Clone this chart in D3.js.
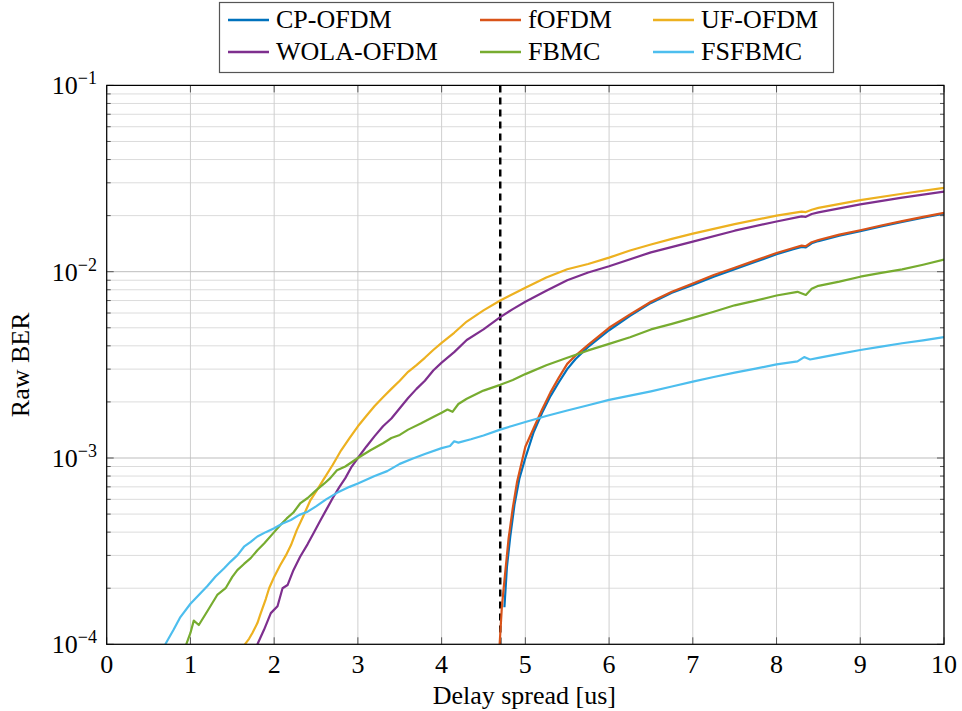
<!DOCTYPE html>
<html>
<head>
<meta charset="utf-8">
<script src="https://cdn.jsdelivr.net/npm/d3@7"></script>
<style>
  html, body { margin: 0; padding: 0; background: #fff; }
</style>
</head>
<body>
<svg id="chart" width="962" height="711"></svg>
<script>
// ---------- data ----------
const seriesNames = ["CP-OFDM", "fOFDM", "UF-OFDM", "WOLA-OFDM", "FBMC", "FSFBMC"];
const seriesColors = ["#0072BD", "#D95319", "#EDB120", "#7E2F8E", "#77AC30", "#4DBEEE"];

const cpofdmX = [4.75,4.78,4.82,4.87,4.93,5.0,5.1,5.2,5.3,5.4,5.5,5.6,5.75,6.0,6.25,6.5,6.75,7.0,7.25,7.5,7.75,8.0,8.2,8.3,8.35,8.42,8.5,8.75,9.0,9.25,9.5,9.75,10];
const cpofdmY = [1.58e-4,2.6e-4,3.8e-4,5.6e-4,7.8e-4,1.0e-3,1.38e-3,1.75e-3,2.15e-3,2.55e-3,3.0e-3,3.4e-3,3.95e-3,4.85e-3,5.8e-3,6.8e-3,7.7e-3,8.5e-3,9.4e-3,1.03e-2,1.13e-2,1.24e-2,1.32e-2,1.36e-2,1.35e-2,1.42e-2,1.46e-2,1.56e-2,1.65e-2,1.75e-2,1.85e-2,1.95e-2,2.05e-2];

const fofdmX = [4.69,4.72,4.75,4.8,4.85,4.9,5.0,5.1,5.2,5.3,5.4,5.5,5.6,5.75,6.0,6.25,6.5,6.75,7.0,7.25,7.5,7.75,8.0,8.2,8.3,8.35,8.42,8.5,8.75,9.0,9.25,9.5,9.75,10];
const fofdmY = [0.95e-4,1.6e-4,2.2e-4,3.7e-4,5.4e-4,7.4e-4,1.15e-3,1.45e-3,1.82e-3,2.25e-3,2.7e-3,3.2e-3,3.55e-3,4.05e-3,5.0e-3,5.9e-3,6.9e-3,7.8e-3,8.65e-3,9.6e-3,1.05e-2,1.15e-2,1.26e-2,1.34e-2,1.38e-2,1.37e-2,1.44e-2,1.48e-2,1.58e-2,1.67e-2,1.77e-2,1.87e-2,1.97e-2,2.07e-2];

const ufofdmX = [1.65,1.7,1.74,1.8,1.84,1.9,1.94,2.0,2.07,2.14,2.2,2.27,2.35,2.43,2.5,2.6,2.7,2.8,2.9,3.0,3.1,3.2,3.3,3.4,3.5,3.6,3.7,3.8,3.9,4.0,4.15,4.3,4.5,4.7,5.0,5.25,5.5,5.75,6.0,6.25,6.5,6.75,7.0,7.5,8.0,8.3,8.35,8.42,8.5,9.0,9.5,10];
const ufofdmY = [1.0e-4,1.07e-4,1.15e-4,1.3e-4,1.47e-4,1.75e-4,2.0e-4,2.3e-4,2.65e-4,3.0e-4,3.4e-4,4.1e-4,4.9e-4,5.9e-4,6.6e-4,7.8e-4,9.2e-4,1.1e-3,1.28e-3,1.48e-3,1.68e-3,1.9e-3,2.12e-3,2.35e-3,2.6e-3,2.9e-3,3.15e-3,3.45e-3,3.8e-3,4.15e-3,4.7e-3,5.4e-3,6.2e-3,7.0e-3,8.2e-3,9.3e-3,1.03e-2,1.1e-2,1.19e-2,1.3e-2,1.4e-2,1.5e-2,1.6e-2,1.8e-2,2.0e-2,2.1e-2,2.09e-2,2.15e-2,2.2e-2,2.42e-2,2.62e-2,2.82e-2];

const wolaX = [1.8,1.88,1.96,2.04,2.1,2.16,2.23,2.31,2.4,2.47,2.55,2.63,2.7,2.78,2.85,2.92,3.0,3.1,3.2,3.3,3.4,3.5,3.6,3.7,3.8,3.9,4.0,4.15,4.3,4.5,4.7,4.85,5.0,5.25,5.5,5.75,6.0,6.5,7.0,7.5,8.0,8.3,8.35,8.42,8.5,9.0,9.5,10];
const wolaY = [1.0e-4,1.2e-4,1.47e-4,1.6e-4,2.0e-4,2.08e-4,2.5e-4,2.95e-4,3.45e-4,3.95e-4,4.6e-4,5.35e-4,6.1e-4,7.0e-4,7.8e-4,8.9e-4,1.0e-3,1.15e-3,1.31e-3,1.48e-3,1.63e-3,1.85e-3,2.1e-3,2.35e-3,2.6e-3,2.95e-3,3.25e-3,3.7e-3,4.3e-3,4.9e-3,5.7e-3,6.3e-3,6.9e-3,7.9e-3,9.0e-3,9.9e-3,1.07e-2,1.27e-2,1.45e-2,1.66e-2,1.86e-2,1.98e-2,1.97e-2,2.04e-2,2.08e-2,2.3e-2,2.5e-2,2.69e-2];

const fbmcX = [0.95,1.0,1.04,1.1,1.2,1.32,1.42,1.5,1.56,1.64,1.72,1.8,1.88,2.0,2.08,2.15,2.23,2.31,2.4,2.5,2.6,2.67,2.75,2.85,3.0,3.15,3.3,3.4,3.5,3.6,3.75,3.9,4.0,4.07,4.13,4.2,4.3,4.5,4.7,4.85,5.0,5.25,5.5,5.75,6.0,6.25,6.5,6.75,7.0,7.25,7.5,7.75,8.0,8.25,8.35,8.42,8.5,8.75,9.0,9.25,9.5,9.75,10];
const fbmcY = [1.0e-4,1.15e-4,1.34e-4,1.27e-4,1.5e-4,1.84e-4,2.0e-4,2.3e-4,2.5e-4,2.7e-4,2.9e-4,3.2e-4,3.48e-4,4.0e-4,4.4e-4,4.74e-4,5.1e-4,5.7e-4,6.1e-4,6.7e-4,7.3e-4,7.8e-4,8.6e-4,9.0e-4,1.0e-3,1.1e-3,1.2e-3,1.28e-3,1.33e-3,1.42e-3,1.53e-3,1.66e-3,1.75e-3,1.82e-3,1.77e-3,1.95e-3,2.08e-3,2.3e-3,2.47e-3,2.62e-3,2.82e-3,3.15e-3,3.45e-3,3.78e-3,4.1e-3,4.45e-3,4.9e-3,5.25e-3,5.65e-3,6.1e-3,6.6e-3,7.0e-3,7.45e-3,7.8e-3,7.5e-3,8.1e-3,8.4e-3,8.85e-3,9.4e-3,9.85e-3,1.03e-2,1.09e-2,1.16e-2];

const fsfbmcX = [0.7,0.8,0.88,1.0,1.12,1.2,1.3,1.4,1.48,1.56,1.64,1.72,1.8,1.9,2.0,2.1,2.2,2.3,2.4,2.5,2.62,2.75,2.9,3.0,3.2,3.35,3.5,3.65,3.8,4.0,4.1,4.15,4.2,4.35,4.5,4.7,4.85,5.0,5.25,5.5,5.75,6.0,6.25,6.5,6.75,7.0,7.25,7.5,7.75,8.0,8.25,8.33,8.4,8.5,8.75,9.0,9.25,9.5,9.75,10];
const fsfbmcY = [1.0e-4,1.2e-4,1.4e-4,1.65e-4,1.88e-4,2.05e-4,2.31e-4,2.55e-4,2.78e-4,3.0e-4,3.34e-4,3.55e-4,3.79e-4,4.0e-4,4.2e-4,4.45e-4,4.65e-4,4.95e-4,5.15e-4,5.5e-4,6.0e-4,6.5e-4,7.0e-4,7.3e-4,8.0e-4,8.5e-4,9.3e-4,9.9e-4,1.05e-3,1.13e-3,1.16e-3,1.23e-3,1.21e-3,1.26e-3,1.32e-3,1.42e-3,1.49e-3,1.56e-3,1.68e-3,1.8e-3,1.92e-3,2.05e-3,2.16e-3,2.28e-3,2.42e-3,2.57e-3,2.72e-3,2.87e-3,3.02e-3,3.18e-3,3.3e-3,3.48e-3,3.38e-3,3.45e-3,3.62e-3,3.8e-3,3.96e-3,4.13e-3,4.28e-3,4.45e-3];

const xTicks = [0,1,2,3,4,5,6,7,8,9,10];
const yDecades = [1e-4, 1e-3, 1e-2, 1e-1];
const yExponents = ["−4", "−3", "−2", "−1"];
const markerDelay = 4.7;
const xLabel = "Delay spread [us]";
const yLabel = "Raw BER";

// ---------- build ----------
const FONT = "'Liberation Serif', 'DejaVu Serif', serif";
const FS = 26;
const seriesX = [cpofdmX, fofdmX, ufofdmX, wolaX, fbmcX, fsfbmcX];
const seriesY = [cpofdmY, fofdmY, ufofdmY, wolaY, fbmcY, fsfbmcY];
const series = seriesNames.map((name, i) => ({
  name, color: seriesColors[i],
  points: seriesX[i].map((x, j) => ({ x, y: seriesY[i][j] }))
}));

const svg = d3.select("#chart").attr("font-family", FONT);
const L = 106.7, R = 944, T = 85.4, B = 644.3;
const x = d3.scaleLinear().domain([0, 10]).range([L, R]);
const y = d3.scaleLog().domain([1e-4, 1e-1]).range([B, T]);

const minorVals = [];
for (let e = -4; e < -1; e++) for (let k = 2; k <= 9; k++) minorVals.push(k * Math.pow(10, e));

const grid = svg.append("g");
grid.selectAll("line.minor").data(minorVals).join("line")
  .attr("x1", L).attr("x2", R).attr("y1", d => y(d)).attr("y2", d => y(d))
  .attr("stroke", "#dcdcdc").attr("stroke-width", 1);
grid.selectAll("line.vx").data(xTicks).join("line")
  .attr("x1", d => x(d)).attr("x2", d => x(d)).attr("y1", T).attr("y2", B)
  .attr("stroke", "#cfcfcf").attr("stroke-width", 1);
grid.selectAll("line.major").data(yDecades).join("line")
  .attr("x1", L).attr("x2", R).attr("y1", d => y(d)).attr("y2", d => y(d))
  .attr("stroke", "#bdbdbd").attr("stroke-width", 1);

const ticks = svg.append("g").attr("stroke", "#555").attr("stroke-width", 1);
minorVals.forEach(v => {
  ticks.append("line").attr("x1", L).attr("x2", L + 4).attr("y1", y(v)).attr("y2", y(v));
  ticks.append("line").attr("x1", R).attr("x2", R - 4).attr("y1", y(v)).attr("y2", y(v));
});
yDecades.forEach(v => {
  ticks.append("line").attr("x1", L).attr("x2", L + 7).attr("y1", y(v)).attr("y2", y(v));
  ticks.append("line").attr("x1", R).attr("x2", R - 7).attr("y1", y(v)).attr("y2", y(v));
});
xTicks.forEach(v => {
  ticks.append("line").attr("x1", x(v)).attr("x2", x(v)).attr("y1", B).attr("y2", B - 7);
  ticks.append("line").attr("x1", x(v)).attr("x2", x(v)).attr("y1", T).attr("y2", T + 7);
});

svg.append("defs").append("clipPath").attr("id", "plotclip")
  .append("rect").attr("x", L).attr("y", T).attr("width", R - L).attr("height", B - T);

const line = d3.line().x(d => x(d.x)).y(d => y(d.y));
const plot = svg.append("g").attr("clip-path", "url(#plotclip)");

plot.append("line")
  .attr("x1", x(markerDelay)).attr("x2", x(markerDelay)).attr("y1", T).attr("y2", B)
  .attr("stroke", "#000").attr("stroke-width", 2.5).attr("stroke-dasharray", "7,5");

plot.selectAll("path.s").data(series).join("path")
  .attr("fill", "none").attr("stroke", d => d.color).attr("stroke-width", 2.2)
  .attr("stroke-linejoin", "round")
  .attr("d", d => line(d.points));

svg.append("rect").attr("x", L).attr("y", T).attr("width", R - L).attr("height", B - T)
  .attr("fill", "none").attr("stroke", "#000").attr("stroke-width", 1.2);

svg.append("g").selectAll("text").data(xTicks).join("text")
  .attr("x", d => x(d)).attr("y", 673).attr("text-anchor", "middle")
  .attr("font-family", FONT).attr("font-size", FS).text(d => d);

const yl = svg.append("g");
yDecades.forEach((v, i) => {
  const t = yl.append("text").attr("x", 97).attr("y", y(v) + 9).attr("text-anchor", "end")
    .attr("font-family", FONT).attr("font-size", FS);
  t.append("tspan").text("10");
  t.append("tspan").attr("dy", -10).attr("font-size", 18).text(yExponents[i]);
});

svg.append("text").attr("x", (L + R) / 2 - 1).attr("y", 704).attr("text-anchor", "middle")
  .attr("font-family", FONT).attr("font-size", FS).text(xLabel);
svg.append("text").attr("transform", `translate(29,${(T + B) / 2}) rotate(-90)`)
  .attr("text-anchor", "middle").attr("font-family", FONT).attr("font-size", FS).text(yLabel);

const lg = svg.append("g");
lg.append("rect").attr("x", 219.5).attr("y", 2.5).attr("width", 614).attr("height", 70)
  .attr("fill", "#fff").attr("stroke", "#555").attr("stroke-width", 1.2);
const colX = [228, 480, 653];
const rowY = [20, 52];
series.forEach((s, i) => {
  const cx = colX[i % 3], cy = rowY[Math.floor(i / 3)];
  lg.append("line").attr("x1", cx).attr("x2", cx + 41).attr("y1", cy).attr("y2", cy)
    .attr("stroke", s.color).attr("stroke-width", 2.5);
  lg.append("text").attr("x", cx + 48).attr("y", cy + 8).attr("font-family", FONT)
    .attr("font-size", FS).text(s.name);
});
</script>
</body>
</html>
